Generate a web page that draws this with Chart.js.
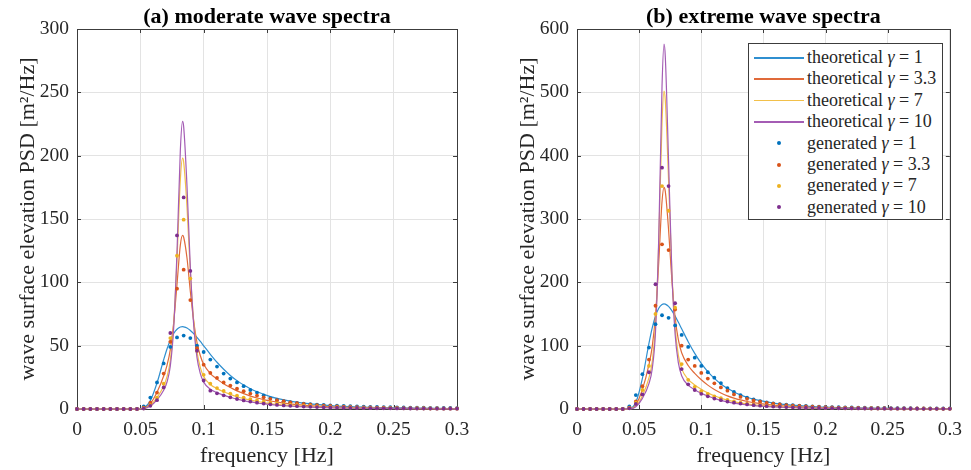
<!DOCTYPE html>
<html><head><meta charset="utf-8">
<script src="https://cdn.jsdelivr.net/npm/chart.js@4"></script>
<style>
html,body{margin:0;padding:0;background:#fff;}
#wrap{position:relative;width:971px;height:470px;overflow:hidden;background:#fff;}
canvas{position:absolute;top:0;}
#ca{left:0;}
#cb{left:500px;}
#legend{position:absolute;left:748px;top:43px;width:195px;height:177px;border:1px solid #3c3c3c;background:#fff;font-family:"Liberation Serif","Times New Roman",serif;font-size:18px;color:#262626;box-sizing:border-box;}
.row{position:absolute;left:0;width:100%;height:21px;line-height:21px;white-space:nowrap;}
.sw{position:absolute;left:5px;top:10px;width:50px;height:1.6px;}
.dot{position:absolute;left:28px;top:8.5px;width:4px;height:4px;border-radius:50%;}
.tx{position:absolute;left:58px;top:0;}
</style></head>
<body>
<div id="wrap">
<canvas id="ca" width="500" height="470"></canvas>
<canvas id="cb" width="471" height="470"></canvas>
<div id="legend"></div>
</div>
<script>
// ---------- data ----------
const gammaLabels = ['1', '3.3', '7', '10'];

// generated spectra frequencies [Hz]
const genFreq = [0, 0.00526, 0.01053, 0.01579, 0.02105, 0.02632, 0.03158, 0.03684, 0.04211, 0.04737,
  0.05263, 0.05789, 0.06316, 0.06842, 0.07368, 0.07895, 0.08421, 0.08947, 0.09474, 0.1,
  0.10526, 0.11053, 0.11579, 0.12105, 0.12632, 0.13158, 0.13684, 0.14211, 0.14737, 0.15263,
  0.15789, 0.16316, 0.16842, 0.17368, 0.17895, 0.18421, 0.18947, 0.19474, 0.2, 0.20526,
  0.21053, 0.21579, 0.22105, 0.22632, 0.23158, 0.23684, 0.24211, 0.24737, 0.25263, 0.25789,
  0.26316, 0.26842, 0.27368, 0.27895, 0.28421, 0.28947, 0.29474, 0.3];

// (a) moderate — theoretical
const theoFreqA = [0, 0.04737, 0.05263, 0.05789, 0.06316, 0.06842, 0.07105, 0.07368, 0.07632, 0.07895,
  0.08158, 0.08333, 0.08421, 0.08684, 0.08947, 0.0921, 0.09474, 0.09737, 0.1, 0.10526,
  0.11053, 0.11579, 0.12105, 0.12632, 0.13158, 0.13684, 0.14211, 0.14737, 0.15263, 0.15789,
  0.16842, 0.17895, 0.18947, 0.2, 0.21053, 0.22105, 0.23684, 0.25263, 0.26316, 0.28421, 0.3];
const theoA1 = [0, 0.02, 0.89, 6.6, 20.5, 38.9, 47.4, 54.3, 59.6, 63.0, 64.7, 65.0, 64.9, 64.0, 62.0, 59.5, 56.5, 53.3, 49.9, 43.2, 36.9, 31.4, 26.5, 22.4, 18.9, 16.0, 13.6, 11.6, 9.8, 8.4, 6.2, 4.7, 3.6, 2.7, 2.1, 1.7, 1.2, 0.87, 0.71, 0.49, 0.37];
const theoA2 = [0, 0.01, 0.57, 4.2, 13.2, 26.0, 34.5, 46.9, 68.1, 98.5, 129.4, 137, 135.6, 119.2, 92.9, 69.6, 52.5, 42.0, 35.3, 28.0, 23.6, 20.0, 16.9, 14.3, 12.1, 10.2, 8.7, 7.4, 6.3, 5.4, 4.0, 3.0, 2.3, 1.75, 1.37, 1.07, 0.77, 0.56, 0.46, 0.31, 0.24];
const theoA3 = [0, 0.01, 0.39, 2.87, 9.0, 18.2, 25.5, 38.7, 66.9, 118.1, 180.9, 198, 194.9, 159.4, 108.1, 69.4, 45.3, 32.6, 25.6, 19.3, 16.1, 13.6, 11.5, 9.7, 8.2, 7.0, 5.9, 5.0, 4.3, 3.7, 2.7, 2.0, 1.55, 1.19, 0.93, 0.73, 0.52, 0.38, 0.31, 0.21, 0.16];
const theoA4 = [0, 0.01, 0.31, 2.31, 7.2, 14.8, 21.3, 34.0, 63.9, 123.9, 204.2, 227, 222.9, 176.1, 111.9, 66.7, 40.6, 27.9, 21.2, 15.6, 12.9, 10.95, 9.24, 7.81, 6.6, 5.59, 4.74, 4.03, 3.44, 2.94, 2.18, 1.64, 1.24, 0.96, 0.75, 0.59, 0.42, 0.31, 0.25, 0.17, 0.13];

// (a) moderate — generated
const genA1 = [0, 0, 0, 0, 0, 0, 0, 0, 0, 0.1, 2, 9, 21, 36, 49, 56.5, 58, 56, 50, 45, 39, 33.5, 28, 24, 21, 18, 15, 13, 10.8, 8.6, 7.3, 6.2, 5.4, 4.8, 4.3, 3.9, 3.5, 3.2, 2.9, 2.6, 2.4, 2.2, 2.0, 1.85, 1.7, 1.6, 1.5, 1.4, 1.3, 1.2, 1.1, 1.05, 1.0, 0.95, 0.9, 0.85, 0.8, 0.75];
const genA2 = [0, 0, 0, 0, 0, 0, 0, 0, 0, 0, 1, 5, 13, 28, 53, 95, 110, 86, 48, 35, 28.5, 24.5, 21, 18.5, 16, 14, 12.2, 10.6, 9.2, 8.0, 7.0, 6.1, 5.3, 4.6, 4.0, 3.5, 3.1, 2.7, 2.4, 2.1, 1.9, 1.7, 1.5, 1.35, 1.2, 1.1, 1.0, 0.9, 0.82, 0.75, 0.7, 0.65, 0.6, 0.55, 0.5, 0.47, 0.44, 0.41];
const genA3 = [0, 0, 0, 0, 0, 0, 0, 0, 0, 0, 0.5, 3, 9, 20, 56, 121, 149.5, 103, 46, 27, 20, 16.5, 14.2, 12.2, 10.5, 9.0, 7.8, 6.7, 5.8, 5.0, 4.4, 3.9, 3.4, 3.0, 2.7, 2.4, 2.1, 1.9, 1.7, 1.5, 1.35, 1.2, 1.1, 1.0, 0.9, 0.82, 0.75, 0.68, 0.62, 0.57, 0.52, 0.48, 0.44, 0.41, 0.38, 0.35, 0.32, 0.3];
const genA4 = [0, 0, 0, 0, 0, 0, 0, 0, 0, 0, 0.3, 2.5, 7, 17, 60, 137, 167, 109, 46, 22.5, 14.5, 12.4, 10.8, 9.2, 7.9, 6.8, 5.9, 5.0, 4.3, 3.7, 3.2, 2.8, 2.5, 2.2, 1.95, 1.75, 1.55, 1.4, 1.25, 1.1, 1.0, 0.9, 0.8, 0.72, 0.65, 0.6, 0.55, 0.5, 0.45, 0.42, 0.39, 0.36, 0.33, 0.3, 0.28, 0.26, 0.24, 0.22];

// (b) extreme — theoretical
const theoFreqB = [0, 0.03684, 0.04211, 0.04737, 0.05263, 0.05789, 0.06053, 0.06316, 0.06579, 0.06842,
  0.07, 0.07105, 0.07368, 0.07632, 0.07895, 0.08158, 0.08421, 0.08947, 0.09474, 0.1,
  0.10526, 0.11053, 0.11579, 0.12105, 0.12632, 0.13158, 0.13684, 0.14211, 0.14737, 0.15789,
  0.16842, 0.17895, 0.18947, 0.2, 0.21053, 0.23158, 0.25263, 0.27368, 0.3];
const theoB1 = [0, 0, 0.53, 10.5, 48.3, 103.6, 128.1, 146.9, 159.2, 165.1, 166, 165.6, 162.0, 155.3, 146.6, 136.9, 126.6, 106.3, 87.9, 72.1, 59.0, 48.3, 39.6, 32.6, 26.9, 22.3, 18.6, 15.6, 13.2, 9.4, 6.9, 5.2, 3.9, 3.0, 2.3, 1.45, 0.94, 0.63, 0.4];
const theoB2 = [0, 0, 0.34, 6.7, 30.9, 70.0, 98.4, 147.4, 232.0, 327.6, 350, 343.5, 283.2, 204.4, 144.9, 109.0, 88.9, 68.6, 56.2, 46.1, 37.7, 30.9, 25.3, 20.8, 17.2, 14.3, 11.9, 10.0, 8.4, 6.0, 4.4, 3.3, 2.5, 1.9, 1.48, 0.92, 0.6, 0.4, 0.25];
const theoB3 = [0, 0, 0.23, 4.55, 20.9, 49.0, 74.8, 132.4, 263.8, 452.3, 502, 487.6, 360.9, 217.8, 128.9, 84.7, 63.7, 46.7, 38.0, 31.2, 25.5, 20.9, 17.1, 14.1, 11.6, 9.6, 8.0, 6.7, 5.7, 4.1, 3.0, 2.2, 1.7, 1.3, 1.0, 0.62, 0.41, 0.27, 0.17];
const theoB4 = [0, 0, 0.18, 3.66, 16.8, 40.1, 63.4, 121.7, 271.1, 509.6, 576, 556.7, 391.5, 217.1, 117.9, 72.7, 52.6, 37.6, 30.5, 25.0, 20.5, 16.7, 13.7, 11.3, 9.3, 7.7, 6.5, 5.4, 4.6, 3.3, 2.4, 1.8, 1.35, 1.04, 0.8, 0.5, 0.33, 0.22, 0.14];

// (b) extreme — generated
const genB1 = [0, 0, 0, 0, 0, 0, 0, 0, 4, 22, 55, 97, 134, 148, 144, 132, 117, 98, 81, 68, 58, 49.5, 41, 33, 27, 22, 18, 15, 12.5, 10.6, 9, 7.8, 6.8, 6, 5.3, 4.7, 4.2, 3.8, 3.4, 3.1, 2.8, 2.6, 2.4, 2.2, 2.0, 1.85, 1.7, 1.6, 1.5, 1.4, 1.3, 1.2, 1.1, 1.05, 1.0, 0.95, 0.9, 0.85];
const genB2 = [0, 0, 0, 0, 0, 0, 0, 0, 2, 12, 36, 78, 163, 260, 251, 157, 100, 78, 68, 57, 48, 40.5, 34, 29, 23, 19, 16, 13.5, 11.5, 9.8, 8.4, 7.2, 6.2, 5.4, 4.7, 4.1, 3.6, 3.2, 2.8, 2.5, 2.2, 2.0, 1.8, 1.65, 1.5, 1.4, 1.3, 1.2, 1.1, 1.0, 0.95, 0.9, 0.85, 0.8, 0.75, 0.7, 0.65, 0.6];
const genB3 = [0, 0, 0, 0, 0, 0, 0, 0, 1.5, 10, 30, 68, 150, 352, 313, 160, 71, 46, 35, 28, 24, 20, 17, 14.5, 12, 10, 8.5, 7.2, 6.1, 5.2, 4.5, 3.9, 3.4, 3.0, 2.6, 2.3, 2.0, 1.8, 1.6, 1.45, 1.3, 1.2, 1.1, 1.0, 0.9, 0.82, 0.75, 0.68, 0.62, 0.57, 0.52, 0.48, 0.44, 0.41, 0.38, 0.35, 0.32, 0.3];
const genB4 = [0, 0, 0, 0, 0, 0, 0, 0, 1, 8, 23, 58, 197, 381, 352, 167, 63, 39, 30, 24, 20, 16.5, 14, 11.8, 10, 8.5, 7.2, 6.1, 5.2, 4.5, 3.9, 3.4, 3.0, 2.6, 2.3, 2.0, 1.8, 1.6, 1.45, 1.3, 1.15, 1.05, 0.95, 0.85, 0.78, 0.7, 0.64, 0.58, 0.53, 0.48, 0.44, 0.4, 0.37, 0.34, 0.31, 0.28, 0.26, 0.24];

const xTicks = [0, 0.05, 0.1, 0.15, 0.2, 0.25, 0.3];

// ---------- styles ----------
const lineColors = ['#2f8fd0', '#e06a3a', '#f2c04a', '#a45cb4'];
const dotColors = ['#0072BD', '#D95319', '#EDB120', '#7E2F8E'];
const FONT = '"Liberation Serif", "Times New Roman", serif';
const TXT = '#262626';

function buildDatasets(theoFreq, theo, gen) {
  const ds = [];
  theo.forEach((ser, i) => ds.push({
    label: 'theoretical γ = ' + gammaLabels[i],
    data: theoFreq.map((f, j) => ({x: f, y: ser[j]})),
    borderColor: lineColors[i], backgroundColor: lineColors[i],
    borderWidth: 1.2, pointRadius: 0, cubicInterpolationMode: 'monotone',
    fill: false, order: 7 - i, clip: 4, isGen: false
  }));
  gen.forEach((ser, i) => ds.push({
    label: 'generated γ = ' + gammaLabels[i],
    data: genFreq.map((f, j) => ({x: f, y: ser[j]})),
    showLine: false, pointRadius: 1.9, pointBorderWidth: 0,
    pointBackgroundColor: dotColors[i], borderColor: dotColors[i], backgroundColor: dotColors[i],
    order: 3 - i, clip: 4, isGen: true
  }));
  return ds;
}

const framePlugin = {
  id: 'frame',
  beforeDatasetsDraw(chart) {
    const {ctx, chartArea: a, scales} = chart;
    ctx.save();
    ctx.strokeStyle = '#3c3c3c';
    ctx.lineWidth = 1;
    ctx.strokeRect(Math.round(a.left) + 0.5, Math.round(a.top) + 0.5, Math.round(a.right - a.left), Math.round(a.bottom - a.top));
    ctx.beginPath();
    const L = 4;
    scales.x.ticks.forEach(t => {
      const px = Math.round(scales.x.getPixelForValue(t.value)) + 0.5;
      ctx.moveTo(px, a.bottom); ctx.lineTo(px, a.bottom - L);
      ctx.moveTo(px, a.top); ctx.lineTo(px, a.top + L);
    });
    scales.y.ticks.forEach(t => {
      const py = Math.round(scales.y.getPixelForValue(t.value)) + 0.5;
      ctx.moveTo(a.left, py); ctx.lineTo(a.left + L, py);
      ctx.moveTo(a.right, py); ctx.lineTo(a.right - L, py);
    });
    ctx.stroke();
    ctx.restore();
  },
  afterDraw(chart) {
    const t = chart.options.plugins.frame && chart.options.plugins.frame.title;
    if (!t) return;
    const {ctx, chartArea: a} = chart;
    ctx.save();
    ctx.font = 'bold 22px ' + FONT;
    ctx.fillStyle = '#000';
    ctx.textAlign = 'center';
    ctx.textBaseline = 'middle';
    ctx.fillText(t, (a.left + a.right) / 2, 17);
    ctx.restore();
  }
};

function makeChart(canvasId, datasets, yMax, yStep, title, rightPad) {
  return new Chart(document.getElementById(canvasId), {
    type: 'line',
    data: {datasets},
    plugins: [framePlugin],
    options: {
      responsive: false, animation: false, events: [], devicePixelRatio: 1,
      layout: {padding: {top: 29, right: rightPad, left: 0, bottom: 0}},
      plugins: {legend: {display: false}, tooltip: {enabled: false}, frame: {title}},
      scales: {
        x: {
          type: 'linear', min: 0, max: 0.3,
          afterFit: s => { s.height = 61; },
          afterBuildTicks: s => { s.ticks = xTicks.map(v => ({value: v})); },
          ticks: {autoSkip: false, maxRotation: 0, padding: 9, color: TXT,
            font: {family: FONT, size: 19.5},
            callback: v => String(+v.toFixed(2))},
          grid: {color: '#e3e3e3', drawTicks: false},
          border: {display: false},
          title: {display: true, text: 'frequency [Hz]', color: TXT,
            font: {family: FONT, size: 22}, padding: {top: 0, bottom: 1}}
        },
        y: {
          type: 'linear', min: 0, max: yMax,
          afterFit: s => { s.width = 77; },
          ticks: {stepSize: yStep, padding: 8, color: TXT, font: {family: FONT, size: 19.5}},
          grid: {color: '#e3e3e3', drawTicks: false},
          border: {display: false},
          title: {display: true, text: 'wave surface elevation PSD [m²/Hz]', color: TXT,
            font: {family: FONT, size: 22}, padding: {top: 15, bottom: 0}}
        }
      }
    }
  });
}

const chartA = makeChart('ca', buildDatasets(theoFreqA, [theoA1, theoA2, theoA3, theoA4], [genA1, genA2, genA3, genA4]),
  300, 50, '(a) moderate wave spectra', 43);
const chartB = makeChart('cb', buildDatasets(theoFreqB, [theoB1, theoB2, theoB3, theoB4], [genB1, genB2, genB3, genB4]),
  600, 100, '(b) extreme wave spectra', 14);

// HTML legend built from chart B's datasets
const leg = document.getElementById('legend');
chartB.data.datasets.forEach((d, i) => {
  const row = document.createElement('div');
  row.className = 'row';
  row.style.top = (3 + i * 21.4) + 'px';
  const mark = document.createElement('span');
  if (d.isGen) { mark.className = 'dot'; mark.style.background = d.pointBackgroundColor; }
  else { mark.className = 'sw'; mark.style.background = d.borderColor; }
  row.appendChild(mark);
  const tx = document.createElement('span');
  tx.className = 'tx';
  tx.innerHTML = d.label.replace('γ', '<i>γ</i>');
  row.appendChild(tx);
  leg.appendChild(row);
});
</script>
</body></html>
